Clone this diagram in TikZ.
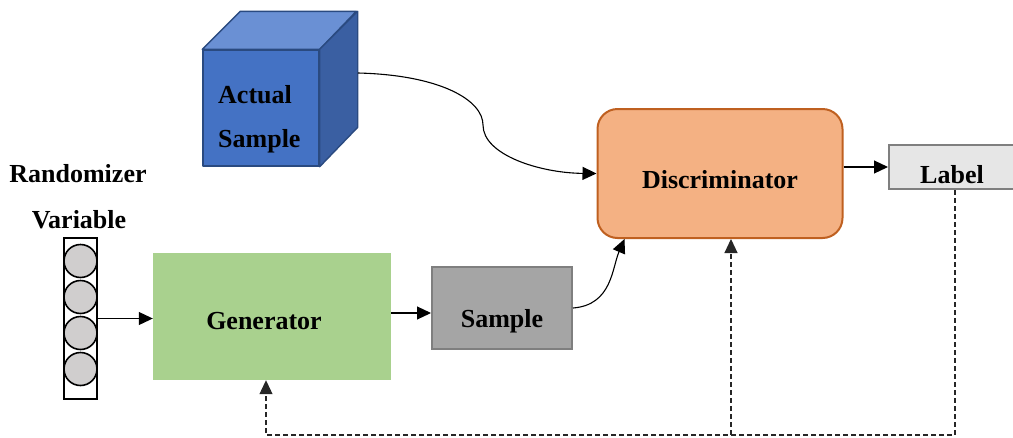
\documentclass[tikz,border=0pt]{standalone}
\usepackage{fontspec}
\setmainfont{Liberation Serif}
\usetikzlibrary{arrows.meta,calc}
\definecolor{cubefront}{HTML}{4472C4}
\definecolor{cubetop}{HTML}{6A90D4}
\definecolor{cubeside}{HTML}{3A5FA2}
\definecolor{cubeedge}{HTML}{2A4A80}
\definecolor{genfill}{HTML}{A9D18E}
\definecolor{smpfill}{HTML}{A5A5A5}
\definecolor{smpedge}{HTML}{7F7F7F}
\definecolor{discfill}{HTML}{F4B183}
\definecolor{discedge}{HTML}{BF6020}
\definecolor{lblfill}{HTML}{E6E6E6}
\definecolor{ballfill}{HTML}{D0CECE}
\begin{document}
\begin{tikzpicture}[x=1pt,y=-1pt,
  every node/.style={font=\fontsize{26}{30}\selectfont\bfseries, inner sep=0pt},
  conn/.style={line width=1.1pt, -{Triangle[length=14pt,width=13pt]}},
  feedback/.style={line width=1.1pt, dash pattern=on 5pt off 3pt, black!85},
  fbarrow/.style={feedback, -{Triangle[length=14pt,width=13pt]}},
  cubeface/.style={draw=cubeedge, line width=1.4pt, line join=round},
  ball/.style={circle, draw=black, line width=1.6pt, fill=ballfill, minimum size=33pt},
]
\useasboundingbox (0,0) rectangle (1013,437);

% real-data cube
\node[cubeface, fill=cubefront, minimum width=116pt, minimum height=116pt] (cube) at (261,108) {};
\draw[cubeface, fill=cubetop] (cube.north west) -- ++(38,-38) -- ++(116,0) -- (cube.north east) -- cycle;
\draw[cubeface, fill=cubeside] (cube.north east) -- ++(38,-38) -- ++(0,116) -- (cube.south east) -- cycle;
\coordinate (cubeout) at (358,73);
\node[anchor=base west] (actualA) at (218,103) {Actual};
\node[anchor=base west] (actualB) at (218,147) {Sample};

% noise input
\node[anchor=base] (randA) at (78,182) {Randomizer};
\node[anchor=base] (randB) at (79,228) {Variable};
\node[draw=black, line width=1.6pt, fill=white, minimum width=33pt, minimum height=161pt] (rnd) at (80.5,318.5) {};
\node[ball] (b1) at (80.5,261) {};
\node[ball] (b2) at (80.5,297) {};
\node[ball] (b3) at (80.5,333) {};
\node[ball] (b4) at (80.5,369) {};

% blocks
\node[fill=genfill, minimum width=238pt, minimum height=127pt, text height=25pt, text depth=0pt] (gen) at (272,316.5) {\hspace*{-16pt}Generator};
\node[draw=smpedge, line width=2pt, fill=smpfill, minimum width=140pt, minimum height=82pt, text height=38pt, text depth=0pt] (smp) at (502,308) {Sample};
\node[draw=discedge, line width=2pt, fill=discfill, rounded corners=20pt, minimum width=245pt, minimum height=129pt, text height=29pt, text depth=0pt] (disc) at (720,173.5) {Discriminator};
\node[draw=smpedge, line width=2pt, fill=lblfill, minimum width=126pt, minimum height=44pt, text height=32pt, text depth=0pt] (lbl) at (952,167) {Label};

% forward connectors
\draw[conn] (rnd.east) -- (rnd.east -| gen.west);
\draw[conn] ([yshift=3.5pt]gen.east) -- ([yshift=3.5pt]gen.east -| smp.west);
\draw[conn] (smp.east) .. controls (612,305) and (612,268) .. ([xshift=28pt]disc.south west);
\draw[conn] (cubeout) .. controls (440,75) and (483,100) .. (483,125) .. controls (483,155) and (540,173) .. (disc.west);
\draw[conn] (disc.east |- lbl.west) -- (lbl.west);

% feedback loop
\coordinate (base) at (0,435);
\draw[fbarrow] ([xshift=3pt]lbl.south) -- ([xshift=3pt]lbl.south |- base) -| ([xshift=-6pt]gen.south);
\draw[fbarrow] ([xshift=11pt]disc.south |- base) -- ([xshift=11pt]disc.south);
\end{tikzpicture}
\end{document}
